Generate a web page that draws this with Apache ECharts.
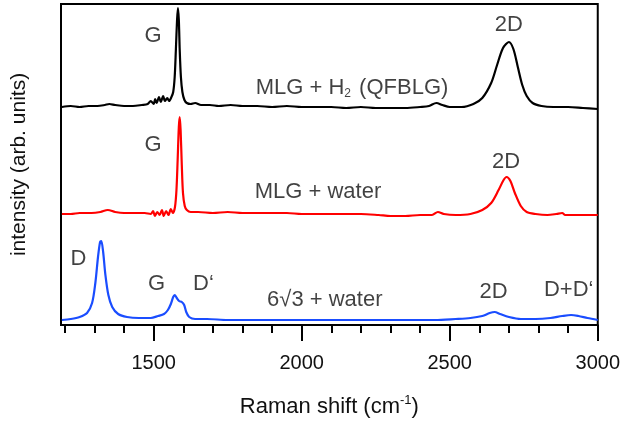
<!DOCTYPE html>
<html>
<head>
<meta charset="utf-8">
<script src="https://cdn.jsdelivr.net/npm/echarts@6/dist/echarts.min.js"></script>
<style>
  html, body { margin: 0; padding: 0; background: #fff; }
  #chart { width: 623px; height: 424px; }
</style>
</head>
<body>
<div id="chart"></div>
<script>
// Raman shift (cm-1) vs intensity, three spectra stacked with offsets
const blackSpectrum = [
  [1190, 218], [1220, 219], [1250, 218], [1280, 219], [1310, 219], [1335, 220], [1350, 221],
  [1370, 220], [1400, 219], [1430, 219], [1460, 220], [1480, 221], [1490, 224], [1500, 221],
  [1505, 226], [1510, 222], [1518, 228], [1524, 223], [1532, 229], [1538, 224], [1546, 227],
  [1552, 224], [1560, 228], [1566, 233], [1571, 248], [1575, 275], [1579, 305], [1582, 317],
  [1585, 305], [1588, 275], [1592, 248], [1597, 233], [1604, 225], [1612, 222], [1625, 221],
  [1640, 222], [1660, 220], [1690, 220], [1720, 219], [1760, 220], [1800, 219], [1850, 219],
  [1900, 218], [1950, 219], [2000, 218], [2050, 218], [2100, 218], [2150, 217], [2200, 218],
  [2250, 217], [2300, 217], [2350, 217], [2400, 218], [2430, 219], [2455, 222], [2475, 220],
  [2500, 218], [2540, 218], [2580, 221], [2610, 227], [2640, 242], [2660, 260], [2680, 277],
  [2700, 283], [2715, 276], [2730, 258], [2745, 240], [2760, 229], [2780, 222], [2810, 219],
  [2850, 218], [2900, 218], [2950, 217], [3000, 216]
];
const redSpectrum = [
  [1190, 111], [1220, 111], [1250, 112], [1290, 112], [1320, 113], [1345, 115], [1370, 113],
  [1400, 112], [1440, 112], [1470, 112], [1490, 111], [1498, 114], [1504, 109], [1512, 113],
  [1520, 110], [1528, 115], [1534, 109], [1542, 114], [1550, 110], [1558, 116], [1565, 112],
  [1572, 118], [1577, 135], [1581, 165], [1585, 198], [1588, 208], [1591, 195], [1595, 160],
  [1599, 132], [1605, 119], [1612, 115], [1625, 113], [1650, 113], [1700, 112], [1750, 113],
  [1800, 112], [1850, 112], [1900, 112], [1950, 112], [2000, 111], [2050, 111], [2100, 111],
  [2150, 111], [2200, 111], [2260, 110], [2300, 109], [2350, 109], [2400, 110], [2440, 110],
  [2460, 113], [2480, 111], [2520, 110], [2570, 111], [2610, 115], [2640, 122], [2665, 135],
  [2682, 145], [2692, 148], [2705, 144], [2720, 132], [2740, 119], [2760, 113], [2790, 111],
  [2830, 110], [2860, 111], [2880, 112], [2890, 110], [2950, 110], [3000, 110]
];
const blueSpectrum = [
  [1190, 5], [1220, 6], [1250, 8], [1275, 12], [1292, 22], [1303, 42], [1312, 68], [1319, 83],
  [1323, 84], [1329, 74], [1337, 50], [1347, 30], [1360, 18], [1380, 11], [1410, 8], [1450, 7],
  [1490, 7], [1515, 9], [1535, 11], [1548, 15], [1558, 21], [1566, 28], [1571, 30], [1578, 27],
  [1586, 24], [1595, 23], [1603, 20], [1610, 13], [1620, 8], [1640, 6], [1680, 6], [1750, 5],
  [1850, 5], [1950, 5], [2050, 5], [2150, 5], [2250, 5], [2350, 5], [2450, 5], [2520, 6],
  [2570, 7], [2610, 9], [2635, 12], [2652, 13], [2670, 11], [2700, 8], [2740, 6], [2790, 6],
  [2840, 7], [2880, 9], [2910, 10], [2935, 9], [2965, 7], [3000, 5]
];

const majorTicks = [1500, 2000, 2500, 3000];
const minorTicks = [1200, 1300, 1400, 1500, 1600, 1700, 1800, 1900, 2000, 2100, 2200, 2300,
  2400, 2500, 2600, 2700, 2800, 2900, 3000];

// peak labels and curve names, placed in data units
const annotationText = ['G', '2D', 'MLG + {sub|H}{s|2} (QFBLG)', 'G', 'MLG + water', '2D',
  'D', 'G', 'D\u2018', '6\u221A3 + water', '2D', 'D+D\u2018'];
const annotationX = [1498, 2700, 2170, 1498, 2055, 2690, 1246, 1510, 1668, 2078, 2648, 2902];
const annotationY = [289, 300, 237, 180, 133, 163, 66, 41, 41, 25, 33, 35];

const font = 'Liberation Sans, Arial, Helvetica, sans-serif';
const ink = '#111';

const chart = echarts.init(document.getElementById('chart'));

const lineSeries = (data, color) => ({
  type: 'line',
  data: data,
  showSymbol: false,
  smooth: 0.3,
  xAxisIndex: 0,
  lineStyle: { color: color, width: 2.2 },
  silent: true
});

chart.setOption({
  animation: false,
  grid: {
    left: 61, right: 25, top: 4, bottom: 99,
    show: true, borderColor: '#000', borderWidth: 2, backgroundColor: 'transparent'
  },
  xAxis: [{
    type: 'value', min: 1187, max: 3000,
    axisLine: { show: true, onZero: false, lineStyle: { color: '#000', width: 2 } },
    axisTick: { show: true, customValues: majorTicks, length: 16, lineStyle: { color: '#000', width: 2 } },
    axisLabel: {
      customValues: majorTicks, fontSize: 20, color: ink, fontFamily: font, margin: 28,
      formatter: v => String(v)
    },
    splitLine: { show: false },
    name: 'Raman shift (cm{sup|-1})',
    nameLocation: 'middle', nameGap: 69,
    nameTextStyle: {
      fontSize: 22, color: ink, fontFamily: font,
      rich: { sup: { fontSize: 13, fontFamily: font, color: ink, padding: [0, 0, 13, 0] } }
    }
  }, {
    type: 'value', min: 1187, max: 3000, position: 'bottom',
    axisLine: { show: false },
    axisTick: { show: true, customValues: minorTicks, length: 8, lineStyle: { color: '#000', width: 2 } },
    axisLabel: { show: false },
    splitLine: { show: false }
  }],
  yAxis: {
    type: 'value', min: 0, max: 321,
    axisLine: { show: false }, axisTick: { show: false }, axisLabel: { show: false },
    splitLine: { show: false },
    name: 'intensity (arb. units)',
    nameLocation: 'middle', nameGap: 31,
    nameTextStyle: { fontSize: 21, color: ink, fontFamily: font }
  },
  series: [
    lineSeries(blackSpectrum, '#000000'),
    lineSeries(redSpectrum, '#ff0000'),
    lineSeries(blueSpectrum, '#1a4dff'),
    {
      type: 'scatter',
      symbolSize: 0,
      silent: true,
      data: annotationText.map((t, i) => ({ value: [annotationX[i], annotationY[i]], name: t })),
      label: {
        show: true, position: 'inside', formatter: p => p.name,
        fontSize: 22, color: ink, fontFamily: font,
        rich: {
          sub: { fontSize: 22, color: ink, fontFamily: font },
          s: { fontSize: 12, color: ink, fontFamily: font, padding: [12, 2, 0, 0] }
        }
      }
    }
  ]
});
</script>
</body>
</html>
